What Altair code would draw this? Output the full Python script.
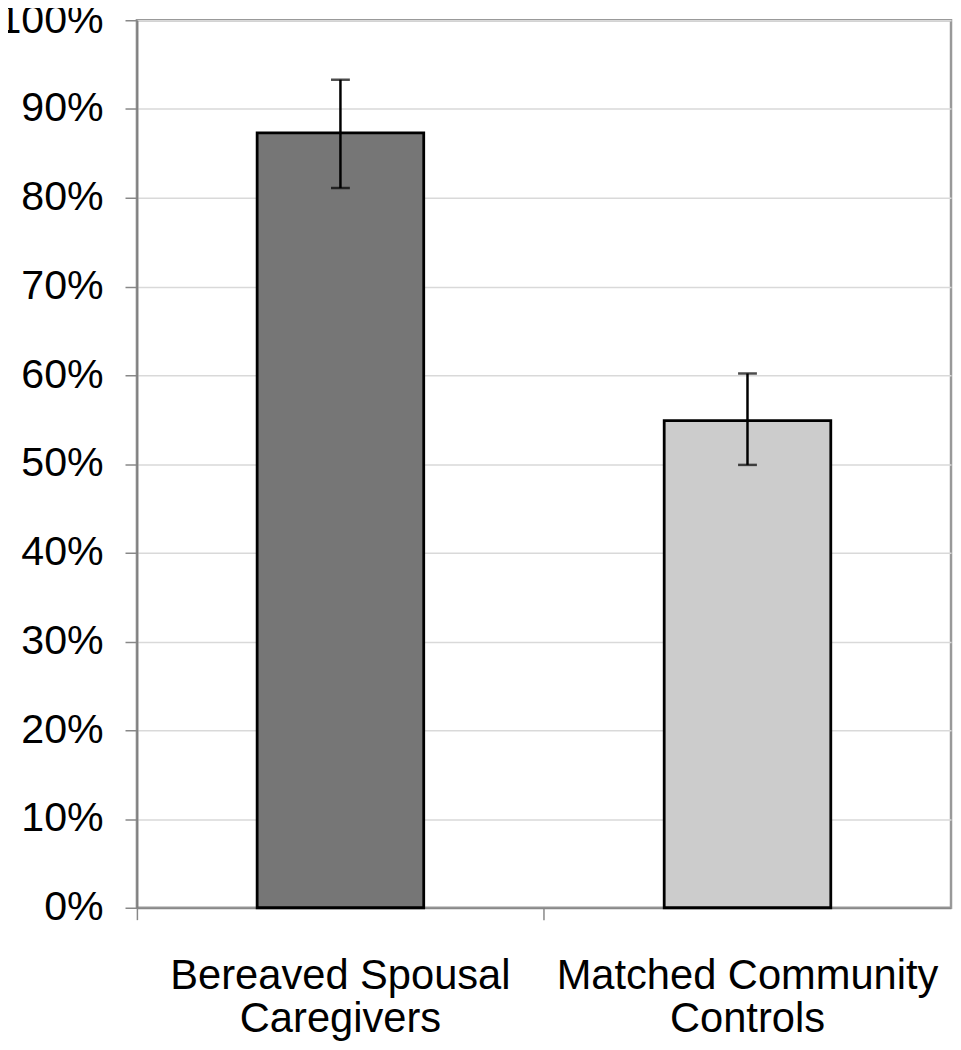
import altair as alt
import pandas as pd

groups = ["Bereaved Spousal Caregivers", "Matched Community Controls"]
values = [87.3, 54.9]
err_low = [81.1, 49.9]
err_high = [93.3, 60.2]
colors = ["#767676", "#cccccc"]

df = pd.DataFrame({"group": groups, "value": values, "lo": err_low, "hi": err_high, "color": colors})

FONT = "Liberation Sans"

x = alt.X("group:N", sort=groups, title=None,
          scale=alt.Scale(paddingInner=0, paddingOuter=0),
          axis=alt.Axis(labelAngle=0, labelFontSize=42, labelFont=FONT, labelColor="#000000",
                        labelPadding=36, labelLimit=500, labelLineHeight=44,
                        labelExpr="[substring(datum.value, 0, lastindexof(datum.value, ' ')), substring(datum.value, lastindexof(datum.value, ' ') + 1)]",
                        bandPosition=0,
                        tickSize=12, tickColor="#888888", tickWidth=1.5,
                        domainColor="#888888", domainWidth=2, grid=False))

y_scale = alt.Scale(domain=[0, 100])
y_axis = alt.Axis(values=list(range(0, 101, 10)), labelExpr="datum.value + '%'",
                  labelFontSize=41.5, labelFont=FONT, labelColor="#000000", labelPadding=22,
                  tickSize=12, tickColor="#888888", tickWidth=1.5,
                  domainColor="#808080", domainWidth=2,
                  grid=True, gridColor="#d9d9d9", gridWidth=1.5)

bars = alt.Chart(df).mark_bar(stroke="#000000", strokeWidth=2.8, size=168).encode(
    x=x,
    y=alt.Y("value:Q", scale=y_scale, title=None, axis=y_axis),
    fill=alt.Fill("color:N", scale=None),
)

rules = alt.Chart(df).mark_rule(color="#000000", strokeWidth=2.5).encode(
    x=alt.X("group:N", sort=groups),
    y=alt.Y("lo:Q", scale=y_scale),
    y2="hi:Q",
)

caps = alt.Chart(df).transform_fold(["lo", "hi"], as_=["end", "pos"]).mark_tick(
    color="#000000", thickness=2.5, size=19
).encode(
    x=alt.X("group:N", sort=groups),
    y=alt.Y("pos:Q", scale=y_scale),
)

chart = alt.layer(bars, rules, caps).properties(
    width=821, height=895,
    autosize=alt.AutoSizeParams(type="none"),
    padding={"left": 130, "top": 8, "right": 2, "bottom": 130},
    background="#ffffff",
).configure_view(stroke="#999999", strokeWidth=2.5)

chart.save("out.html", embed_options={"renderer": "svg", "actions": False})
